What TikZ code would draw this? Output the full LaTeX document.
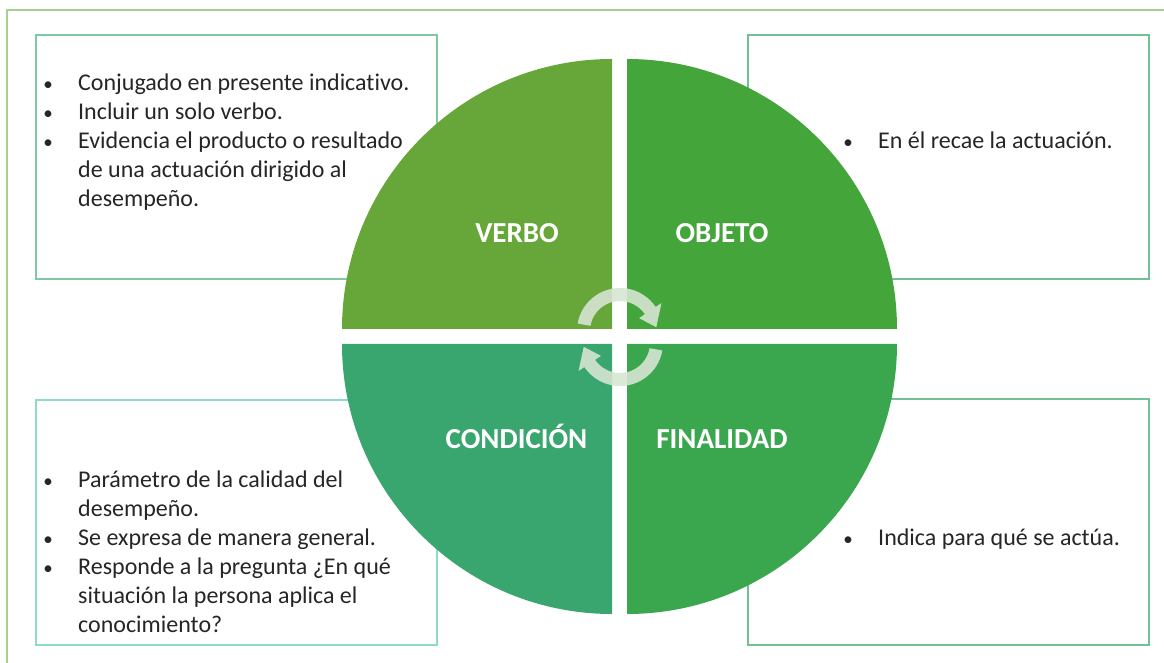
\documentclass[tikz,border=0pt]{standalone}
\usepackage{fontspec}
\setmainfont{Carlito}[Ligatures=NoCommon]
\usetikzlibrary{calc}
\definecolor{outerc}{HTML}{A9D18E}
\definecolor{boxa}{HTML}{7FC8A4}
\definecolor{boxb}{HTML}{70C294}
\definecolor{boxc}{HTML}{8FDCC6}
\definecolor{qverbo}{HTML}{67A739}
\definecolor{qobjeto}{HTML}{44A53A}
\definecolor{qcond}{HTML}{38A66E}
\definecolor{qfin}{HTML}{3AA64E}
\definecolor{arrowc}{HTML}{D6E5D2}
\definecolor{txt}{HTML}{262626}
\newcommand{\bul}{\makebox[30pt][l]{\makebox[0pt][c]{\fontsize{19}{29}\selectfont •}}}
\newcommand{\ind}{\hspace*{30pt}}
\tikzset{
  infobox/.style={draw=#1, line width=1.8pt, fill=white},
  bodytext/.style={anchor=base west, inner sep=0pt, text=txt, font=\fontsize{24}{29}\selectfont},
  title/.style={anchor=base, inner sep=0pt, text=white, font=\fontsize{29}{32}\selectfont\bfseries},
  cyclearrow/.style={fill=arrowc, fill opacity=0.9}
}
\begin{document}
\begin{tikzpicture}[x=1pt,y=1pt]
\useasboundingbox (0,0) rectangle (1164,662);
\begin{scope}
\clip (0,0) rectangle (1164,662);
\draw[outerc, line width=1.6pt] (7,652) rectangle (1180,-20);
\end{scope}
% boxes
\draw[infobox=boxa] (36,627) rectangle (437,383);
\draw[infobox=boxb] (748,627) rectangle (1149,383);
\draw[infobox=boxc] (36,262) rectangle (437,17);
\draw[infobox=boxb] (748,263) rectangle (1149,17);
% quadrants
\fill[qverbo] (612,333) -- (342,333) arc[start angle=180,end angle=90,radius=270pt] -- cycle;
\fill[qobjeto] (627,333) -- (627,603) arc[start angle=90,end angle=0,radius=270pt] -- cycle;
\fill[qcond] (612,318) -- (342,318) arc[start angle=180,end angle=270,radius=270pt] -- cycle;
\fill[qfin] (627,318) -- (897,318) arc[start angle=0,end angle=-90,radius=270pt] -- cycle;
% titles
\node[title] (tverbo) at (517,419) {VERBO};
\node[title] (tobjeto) at (722,419) {OBJETO};
\node[title] (tcond) at (516.5,214) {CONDICIÓN};
\node[title] (tfin) at (722,214) {FINALIDAD};
% cycle arrows
\coordinate (ca) at (620,331);
\coordinate (cb) at (620,319);
\fill[cyclearrow] ($(ca)+(170:43pt)$) arc[start angle=170,end angle=34,radius=43pt]
  -- ($(ca)+(34:50pt)$) -- ($(ca)+(6:36.5pt)$) -- ($(ca)+(34:23pt)$) -- ($(ca)+(34:30pt)$)
  arc[start angle=34,end angle=170,radius=30pt] -- cycle;
\fill[cyclearrow] ($(cb)+(-10:43pt)$) arc[start angle=-10,end angle=-146,radius=43pt]
  -- ($(cb)+(-146:50pt)$) -- ($(cb)+(-174:36.5pt)$) -- ($(cb)+(-146:23pt)$) -- ($(cb)+(-146:30pt)$)
  arc[start angle=-146,end angle=-10,radius=30pt] -- cycle;
% texts
\node[bodytext] (txtverbo) at (48,571) {\begin{tabular}[t]{@{}l@{}}
\bul Conjugado en presente indicativo.\\
\bul Incluir un solo verbo.\\
\bul Evidencia el producto o resultado\\
\ind de una actuación dirigido al\\
\ind desempeño.
\end{tabular}};
\node[bodytext] (txtobjeto) at (848,513) {\begin{tabular}[t]{@{}l@{}}
\bul En él recae la actuación.
\end{tabular}};
\node[bodytext] (txtcond) at (48,175) {\begin{tabular}[t]{@{}l@{}}
\bul Parámetro de la calidad del\\
\ind desempeño.\\
\bul Se expresa de manera general.\\
\bul Responde a la pregunta ¿En qué\\
\ind situación la persona aplica el\\
\ind conocimiento?
\end{tabular}};
\node[bodytext] (txtfin) at (848,117) {\begin{tabular}[t]{@{}l@{}}
\bul Indica para qué se actúa.
\end{tabular}};
\end{tikzpicture}
\end{document}
